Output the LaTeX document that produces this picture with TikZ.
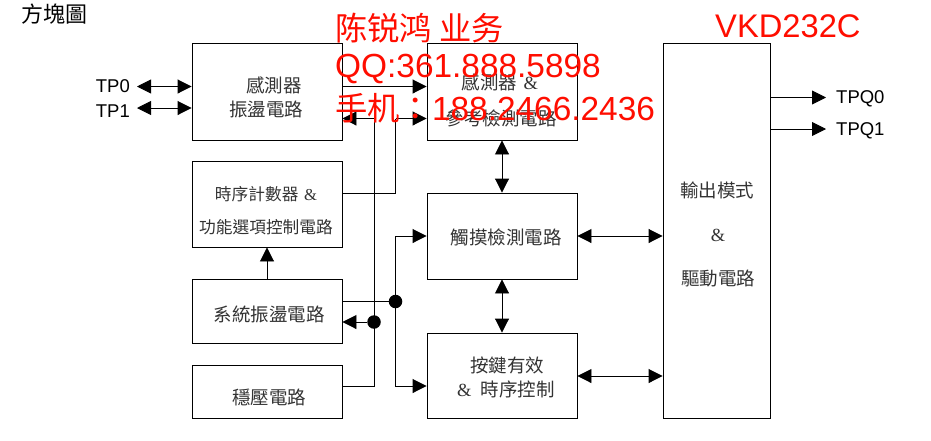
\documentclass[tikz,border=0pt]{standalone}
\usepackage{fontspec}
\setmainfont{Liberation Sans}
\newfontfamily\cjk{Noto Sans CJK TC}
\newfontfamily\cjksc{Noto Sans CJK SC}
\newfontfamily\amp{Liberation Serif}
\usetikzlibrary{arrows.meta,positioning}
\tikzset{%
	block/.style  = {draw, rectangle, line width=0.9pt, minimum width=150pt, inner sep=0pt},
	zh/.style     = {font=\fontsize{18.5}{18.5}\selectfont\cjk, inner sep=0pt, text=black!80},
	zhsmall/.style= {font=\fontsize{16.7}{16.7}\selectfont\cjk, inner sep=0pt, text=black!80},
	pin/.style    = {font=\fontsize{18.5}{18.5}\selectfont, inner sep=0pt},
	note/.style   = {font=\fontsize{33.4}{33.4}\selectfont, text=red!90!orange, inner sep=0pt, anchor=west},
	wire/.style   = {line width=0.9pt},
	arrow/.style  = {wire,-{Triangle[length=14pt,width=14pt]}},
	both/.style   = {wire,{Triangle[length=14pt,width=14pt]}-{Triangle[length=14pt,width=14pt]}},
	junction/.style = {circle, fill=black, minimum size=13.5pt, inner sep=0pt},
}
\begin{document}
\begin{tikzpicture}[x=1pt,y=-1pt]
	\useasboundingbox (0,0) rectangle (931,440);
	% blocks
	\node[block,minimum height=97pt] (sense) at (267,91.5) {};
	\node[block,minimum height=86pt] (timer) at (267,204) {};
	\node[block,minimum height=64pt] (clock) at (267,311) {};
	\node[block,minimum height=53pt] (ldo) at (267,391.5) {};
	\node[block,minimum height=97pt] (refdet) at (502,91.5) {};
	\node[block,minimum height=86pt] (touch) at (502,236) {};
	\node[block,minimum height=85pt] (key) at (502,375.5) {};
	\node[block,minimum width=107pt,minimum height=375pt] (drive) at (716.5,230.5) {};
	% block texts
	\node[font=\fontsize{22}{22}\selectfont\cjk,inner sep=0pt] (title) at (54,14) {方塊圖};
	\node[zh] (sensea) at (274,85) {感測器};
	\node[zh] (senseb) at (266,109) {振盪電路};
	\node[zhsmall] (timera) at (266,194) {時序計數器\,\,{\amp\&}};
	\node[zhsmall] (timerb) at (266,227) {功能選項控制電路};
	\node[zh] (clocka) at (269,314) {系統振盪電路};
	\node[zh] (ldoa) at (269,397) {穩壓電路};
	\node[zh] (refa) at (500,82) {感測器\,\,{\amp\&}};
	\node[zh] (refb) at (501,118) {參考檢測電路};
	\node[zh] (toucha) at (506,237) {觸摸檢測電路};
	\node[zh] (keya) at (507,365) {按鍵有效};
	\node[zh] (keyb) at (506,389) {{\amp\&}\,\,\,時序控制};
	\node[zh] (drivea) at (717,190) {輸出模式};
	\node[zh,font=\fontsize{18.5}{18.5}\selectfont\amp] (driveb) at (718,235) {\&};
	\node[zh] (drivec) at (718,278) {驅動電路};
	% pins
	\node[pin,anchor=east] (tpa) at (130,86) {TP0};
	\node[pin,anchor=east] (tpb) at (130,111) {TP1};
	\node[pin,anchor=west] (tqa) at (836,98.5) {TPQ0};
	\node[pin,anchor=west] (tqb) at (836,130.5) {TPQ1};
	% rail points
	\coordinate (y1) at (0,86.5);
	\coordinate (y2) at (0,108);
	\coordinate (y3) at (0,118.5);
	\coordinate (y4) at (0,301.5);
	\coordinate (y5) at (0,322);
	\coordinate (y6) at (0,386);
	\coordinate (y7) at (0,376);
	\coordinate (y8) at (0,193);
	\coordinate (y9) at (0,97.5);
	\coordinate (y10) at (0,129);
	\coordinate (x1) at (374,0);
	\coordinate (x2) at (395.5,0);
	\coordinate (x3) at (137,0);
	\coordinate (x4) at (826,0);
	\node[junction] (dota) at (x2 |- y4) {};
	\node[junction] (dotb) at (x1 |- y5) {};
	% connectors
	\draw[both] (x3 |- y1) -- (sense.west |- y1);
	\draw[both] (x3 |- y2) -- (sense.west |- y2);
	\draw[arrow] (sense.east |- y1) -- (refdet.west |- y1);
	\draw[arrow] (x1 |- y3) -- (sense.east |- y3);
	\draw[wire] (ldo.east |- y6) -| (x1 |- y3);
	\draw[arrow] (dotb) -- (clock.east |- y5);
	\draw[wire] (timer.east |- y8) -| (x2 |- y3);
	\draw[arrow] (x2 |- y3) -- (refdet.west |- y3);
	\draw[wire] (clock.east |- y4) -- (dota);
	\draw[arrow] (dota) |- (touch.west);
	\draw[arrow] (dota) |- (key.west |- y6);
	\draw[arrow] (clock.north) -- (timer.south);
	\draw[both] (refdet.south) -- (touch.north);
	\draw[both] (touch.south) -- (key.north);
	\draw[both] (touch.east) -- (drive.west |- touch.east);
	\draw[both] (key.east |- y7) -- (drive.west |- y7);
	\draw[arrow] (drive.east |- y9) -- (x4 |- y9);
	\draw[arrow] (drive.east |- y10) -- (x4 |- y10);
	% red notes
	\node[note,font=\fontsize{32.3}{32.3}\selectfont\cjksc] (namea) at (335,28) {陈锐鸿 业务};
	\node[note] (qq) at (335,68.5) {QQ:361.888.5898};
	\node[note] (phone) at (335,108) {{\fontsize{32.3}{32.3}\selectfont\cjksc 手机}{\fontsize{32.3}{32.3}\selectfont\cjk ：}188.2466.2436};
	\node[note,font=\fontsize{32.7}{32.7}\selectfont] (part) at (715,26) {VKD232C};
\end{tikzpicture}
\end{document}
